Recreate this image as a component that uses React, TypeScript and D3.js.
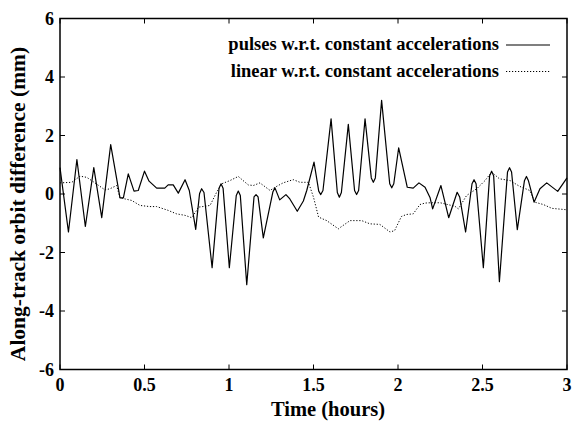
import React from "react";
import * as d3 from "d3";

const pulsesT = [0, 0.05, 0.1, 0.15, 0.2, 0.247, 0.3, 0.355, 0.375, 0.404, 0.438, 0.463, 0.5, 0.527, 0.572, 0.62, 0.64, 0.67, 0.7, 0.74, 0.765, 0.803, 0.826, 0.838, 0.852, 0.9, 0.941, 0.953, 0.965, 1.002, 1.043, 1.055, 1.067, 1.105, 1.148, 1.16, 1.172, 1.203, 1.26, 1.272, 1.3, 1.337, 1.36, 1.404, 1.44, 1.46, 1.503, 1.531, 1.543, 1.556, 1.604, 1.641, 1.653, 1.665, 1.706, 1.743, 1.755, 1.767, 1.805, 1.842, 1.854, 1.866, 1.903, 1.951, 1.963, 1.975, 2.004, 2.055, 2.09, 2.124, 2.16, 2.19, 2.205, 2.254, 2.3, 2.35, 2.365, 2.4, 2.438, 2.45, 2.462, 2.505, 2.542, 2.554, 2.566, 2.6, 2.648, 2.66, 2.672, 2.706, 2.748, 2.76, 2.772, 2.805, 2.84, 2.88, 2.945, 3.0];
const pulsesV = [0.9, -1.3, 1.18, -1.11, 0.9, -0.81, 1.69, -0.13, -0.13, 0.69, 0.1, 0.12, 0.78, 0.44, 0.2, 0.2, 0.31, 0.31, 0.03, 0.49, 0.12, -1.21, 0.02, 0.18, 0.05, -2.52, 0.2, 0.35, 0.2, -2.52, -0.05, 0.1, -0.05, -3.1, -0.1, -0.02, -0.1, -1.5, 0.08, 0.21, -0.2, -0.02, -0.17, -0.59, -0.24, 0.12, 1.09, 0.1, -0.02, 0.12, 2.57, 0.05, -0.11, 0.05, 2.38, 0.12, -0.02, 0.12, 2.57, 0.55, 0.4, 0.55, 3.2, 0.35, 0.21, 0.35, 1.58, 0.23, 0.2, 0.38, 0.23, -0.13, -0.51, 0.29, -0.81, 0.06, -0.1, -1.3, 0.35, 0.49, 0.35, -2.52, 0.62, 0.78, 0.62, -3.0, 0.75, 0.9, 0.75, -1.22, 0.45, 0.6, 0.45, -0.28, 0.18, 0.38, 0.09, 0.55];

const linearT = [0, 0.07, 0.118, 0.158, 0.207, 0.266, 0.296, 0.335, 0.355, 0.424, 0.473, 0.53, 0.572, 0.64, 0.69, 0.74, 0.779, 0.809, 0.818, 0.858, 0.888, 0.927, 0.957, 1.006, 1.055, 1.114, 1.144, 1.183, 1.243, 1.272, 1.32, 1.38, 1.42, 1.47, 1.5, 1.53, 1.578, 1.647, 1.716, 1.785, 1.834, 1.893, 1.953, 1.98, 2.02, 2.05, 2.09, 2.13, 2.16, 2.19, 2.25, 2.337, 2.357, 2.406, 2.466, 2.515, 2.554, 2.6, 2.663, 2.72, 2.78, 2.81, 2.86, 2.91, 3.0];
const linearV = [0.38, 0.4, 0.61, 0.57, 0.38, 0.14, 0.18, 0.29, -0.13, -0.22, -0.39, -0.43, -0.43, -0.56, -0.68, -0.73, -0.81, -0.56, -0.45, -0.42, -0.39, 0.06, 0.35, 0.46, 0.6, 0.31, 0.29, 0.38, 0.12, 0.23, 0.38, 0.49, 0.4, 0.4, -0.11, -0.79, -0.91, -1.19, -0.91, -0.91, -1.02, -1.04, -1.3, -1.25, -0.77, -0.7, -0.68, -0.36, -0.31, -0.3, -0.3, -0.42, -0.51, -0.05, 0.18, 0.46, 0.75, 0.52, 0.46, 0.26, 0.12, -0.28, -0.36, -0.49, -0.54];

const xTicks = [0, 0.5, 1, 1.5, 2, 2.5, 3];
const xTickLabels = ["0", "0.5", "1", "1.5", "2", "2.5", "3"];
const yTicks = [-6, -4, -2, 0, 2, 4, 6];
const yTickLabels = ["-6", "-4", "-2", "0", "2", "4", "6"];
const legendLabels = ["pulses w.r.t. constant accelerations", "linear w.r.t. constant accelerations"];

export default function App() {
  const W = 577, H = 421;
  const L = 60, R = 567, T = 18.5, B = 369.5;
  const x = d3.scaleLinear().domain([0, 3]).range([L, R]);
  const y = d3.scaleLinear().domain([-6, 6]).range([B, T]);
  const line = d3.line<[number, number]>().x(d => x(d[0])).y(d => y(d[1]));
  const pulses = pulsesT.map((t, i) => [t, pulsesV[i]] as [number, number]);
  const linear = linearT.map((t, i) => [t, linearV[i]] as [number, number]);
  const font = '"Liberation Serif", "Times New Roman", Times, "DejaVu Serif", serif';
  const tl = 5;
  return (
    <svg width={W} height={H} style={{ position: "absolute", left: 0, top: 0, background: "#fff", fontFamily: font, fontWeight: 700 }}>
      <rect x={0} y={0} width={W} height={H} fill="#fff" />
      <path d={line(linear) || ""} fill="none" stroke="#000" strokeWidth={1} strokeDasharray="1.2,1.8" />
      <path d={line(pulses) || ""} fill="none" stroke="#000" strokeWidth={1.2} strokeLinejoin="round" />
      {xTicks.map((t, i) => (
        <g key={"xt" + i}>
          <line x1={x(t)} x2={x(t)} y1={B} y2={B - tl} stroke="#000" strokeWidth={1} />
          <line x1={x(t)} x2={x(t)} y1={T} y2={T + tl} stroke="#000" strokeWidth={1} />
          <text x={x(t)} y={B + 21} textAnchor="middle" fontSize={18}>{xTickLabels[i]}</text>
        </g>
      ))}
      {yTicks.map((v, i) => (
        <g key={"yt" + i}>
          <line x1={L} x2={L + tl} y1={y(v)} y2={y(v)} stroke="#000" strokeWidth={1} />
          <line x1={R} x2={R - tl} y1={y(v)} y2={y(v)} stroke="#000" strokeWidth={1} />
          <text x={L - 6} y={y(v) + 6} textAnchor="end" fontSize={18}>{yTickLabels[i]}</text>
        </g>
      ))}
      <rect x={L} y={T} width={R - L} height={B - T} fill="none" stroke="#000" strokeWidth={1.5} />
      <text x={328} y={416} textAnchor="middle" fontSize={20.5}>Time (hours)</text>
      <text transform={`translate(25,204) rotate(-90)`} textAnchor="middle" fontSize={21.5}>Along-track orbit difference (mm)</text>
      {legendLabels.map((lab, i) => (
        <g key={"lg" + i}>
          <text x={499} y={50 + i * 26.5} textAnchor="end" fontSize={18.5}>{lab}</text>
          <line x1={506} x2={550} y1={45 + i * 26.5} y2={45 + i * 26.5} stroke="#000" strokeWidth={i === 0 ? 1.2 : 1} strokeDasharray={i === 0 ? undefined : "1.2,1.8"} />
        </g>
      ))}
    </svg>
  );
}
